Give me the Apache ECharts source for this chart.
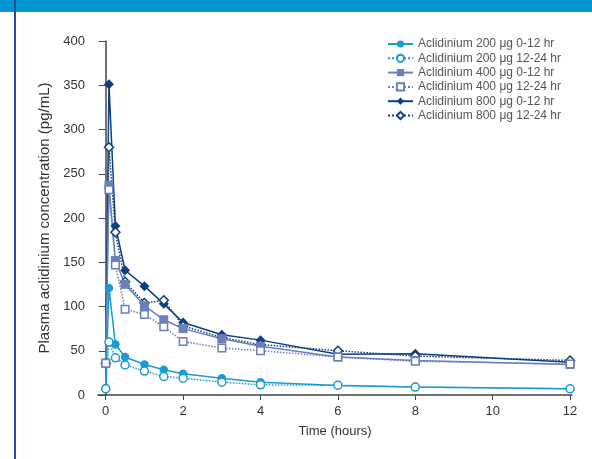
<!DOCTYPE html>
<html>
<head>
<meta charset="utf-8">
<script src="https://cdn.jsdelivr.net/npm/echarts@6/dist/echarts.min.js"></script>
<style>
  html, body { margin: 0; padding: 0; background: #fff; }
  #main { width: 592px; height: 459px; }
</style>
</head>
<body>
<div id="main"></div>
<script>
// time points (hours)
var times = [0, 0.083, 0.25, 0.5, 1, 1.5, 2, 3, 4, 6, 8, 12];
var xTicks = [0, 2, 4, 6, 8, 10, 12];

// plasma concentration (pg/mL)
var a200day = [8, 121, 57, 43, 34.5, 28.5, 24, 19, 14.5, 10.7, 9, 7];
var a200night = [7, 60, 42, 34, 27, 21, 19, 14.5, 11.5, 11, 9, 7];
var a400day = [36, 237, 152, 125, 101, 85, 75, 63.5, 55, 43, 39, 34.5];
var a400night = [36, 232, 147, 97, 91, 77, 60.5, 53, 50, 43, 38, 35];
var a800day = [36, 351, 191, 141, 123, 103, 82, 68, 62, 46, 46.5, 37];
var a800night = [36, 280, 184, 128, 104, 107, 78, 65, 57, 50, 44, 39];

var names = [
    'Aclidinium 200 μg 0-12 hr',
    'Aclidinium 200 μg 12-24 hr',
    'Aclidinium 400 μg 0-12 hr',
    'Aclidinium 400 μg 12-24 hr',
    'Aclidinium 800 μg 0-12 hr',
    'Aclidinium 800 μg 12-24 hr'
];

function pairs(vals) {
    return times.map(function (t, i) { return [t, vals[i]]; });
}

function makeSeries(name, vals, color, symbol, size, open) {
    return {
        name: name,
        type: 'line',
        data: pairs(vals),
        symbol: symbol,
        symbolSize: size,
        showAllSymbol: true,
        lineStyle: { color: color, width: 1.5, type: open ? 'dotted' : 'solid' },
        itemStyle: { color: open ? '#fff' : color, borderColor: color, borderWidth: open ? 1.5 : 0 },
        emphasis: { disabled: true }
    };
}

var blue = '#1b9ad6', slate = '#6b7fb8', navy = '#0d3f82';

var myChart = echarts.init(document.getElementById('main'));
var option = {
    animation: false,
    textStyle: { fontFamily: 'Liberation Sans, Arial, sans-serif' },
    graphic: [
        { type: 'rect', shape: { x: 0, y: 0, width: 592, height: 12 }, style: { fill: '#0094d0' } },
        { type: 'rect', shape: { x: 14, y: 0, width: 2, height: 459 }, style: { fill: '#1e4f9a' } }
    ],
    grid: { left: 98, right: 20, top: 41, bottom: 64 },
    legend: {
        orient: 'vertical',
        left: 382,
        top: 33,
        itemWidth: 25,
        itemHeight: 9,
        itemGap: 2.3,
        textStyle: { fontSize: 12, color: '#555' },
        data: names
    },
    xAxis: {
        type: 'value',
        min: -0.2,
        max: 12.05,
        name: 'Time (hours)',
        nameLocation: 'middle',
        nameGap: 30,
        nameTextStyle: { fontSize: 13, color: '#333' },
        splitLine: { show: false },
        axisLine: { show: true, lineStyle: { color: '#444', width: 1.5 } },
        axisTick: { show: true, length: 5, customValues: xTicks, lineStyle: { color: '#444' } },
        axisLabel: { customValues: xTicks, fontSize: 13, color: '#333', margin: 10 }
    },
    yAxis: {
        type: 'value',
        min: 0,
        max: 400,
        interval: 50,
        name: 'Plasma aclidinium concentration (pg/mL)',
        nameLocation: 'middle',
        nameGap: 45,
        nameTextStyle: { fontSize: 15, color: '#333' },
        splitLine: { show: false },
        axisLine: { show: true, lineStyle: { color: '#444', width: 1.5 } },
        axisTick: { show: true, length: 7, lineStyle: { color: '#444' } },
        axisLabel: { fontSize: 13, color: '#333', margin: 13 }
    },
    // drawn from highest dose to lowest so the lower doses sit on top
    series: [
        makeSeries(names[4], a800day, navy, 'diamond', 10, false),
        makeSeries(names[5], a800night, navy, 'diamond', 9, true),
        makeSeries(names[2], a400day, slate, 'rect', 9, false),
        makeSeries(names[3], a400night, slate, 'rect', 7.5, true),
        makeSeries(names[0], a200day, blue, 'circle', 8.5, false),
        makeSeries(names[1], a200night, blue, 'circle', 8, true)
    ]
};
option && myChart.setOption(option);
</script>
</body>
</html>
